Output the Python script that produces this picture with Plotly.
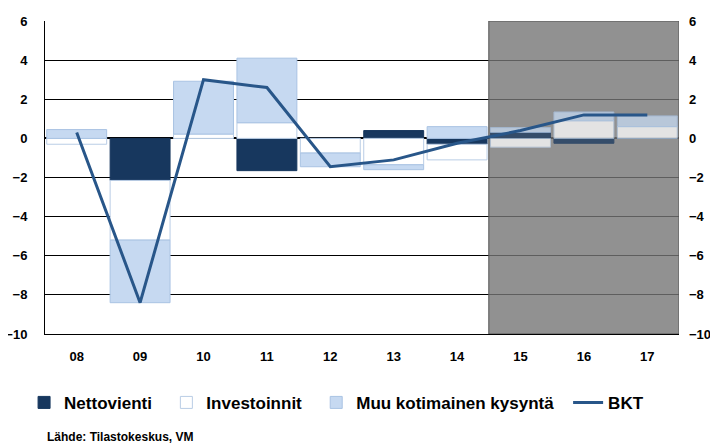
import plotly.graph_objects as go

years = ["08", "09", "10", "11", "12", "13", "14", "15", "16", "17"]
nettovienti = [0.0, -2.15, 0.0, -1.65, 0.0, 0.4, -0.3, 0.3, -0.25, 0.0]
investoinnit = [-0.3, -3.05, 0.22, 0.8, -0.75, -1.35, -0.8, -0.45, 0.9, 0.6]
muu_kotimainen = [0.45, -3.2, 2.7, 3.3, -0.7, -0.25, 0.6, 0.25, 0.45, 0.55]
bkt = [0.3, -8.4, 3.0, 2.6, -1.45, -1.1, -0.25, 0.4, 1.2, 1.2]
forecast = [False] * 7 + [True] * 3
yticks = [-10, -8, -6, -4, -2, 0, 2, 4, 6]

FONT = "Liberation Sans, Arial, sans-serif"
op = [0.75 if f else 1.0 for f in forecast]
PAD = "\u00a0\u00a0"

fig = go.Figure()
fig.add_trace(go.Bar(x=years, y=nettovienti, name="Nettovienti" + PAD,
                     marker=dict(color="#17375E", opacity=op,
                                 line=dict(color="#17375E", width=1))))
fig.add_trace(go.Bar(x=years, y=investoinnit, name="Investoinnit" + PAD,
                     marker=dict(color="#FFFFFF", opacity=op,
                                 line=dict(color="#B9CDE5", width=1))))
fig.add_trace(go.Bar(x=years, y=muu_kotimainen, name="Muu kotimainen kysyntä" + PAD,
                     marker=dict(color="#C6D9F1", opacity=op,
                                 line=dict(color="#A9C3E3", width=1))))
fig.add_trace(go.Scatter(x=years, y=bkt, name="BKT", mode="lines", yaxis="y2",
                         line=dict(color="#285689", width=3)))

n_hist = forecast.index(True)
fig.add_shape(type="rect", xref="x", yref="y", x0=n_hist - 0.5, x1=len(years) - 0.5,
              y0=min(yticks), y1=max(yticks), layer="between",
              fillcolor="rgba(118,118,118,0.8)", line=dict(color="#555555", width=1))

tickfont = dict(family=FONT, size=13, color="#000000", weight="bold")
fig.update_layout(
    width=710, height=436,
    margin=dict(l=37, r=39, t=13, b=110, autoexpand=False),
    paper_bgcolor="white", plot_bgcolor="white",
    barmode="relative", bargap=0.055,
    showlegend=True,
    legend=dict(orientation="h", x=-0.033, xanchor="left", y=-0.22, yanchor="middle",
                font=dict(family=FONT, size=17, color="#000000", weight="bold"),
                traceorder="normal", itemwidth=30, bgcolor="rgba(0,0,0,0)"),
    xaxis=dict(type="category", showgrid=False, showline=True, linecolor="#000000",
               linewidth=1, ticks="", tickfont=tickfont, ticklabelstandoff=10,
               range=[-0.5, len(years) - 0.5], automargin=False),
    yaxis=dict(range=[min(yticks), max(yticks)], tickvals=yticks, showgrid=True,
               gridcolor="#000000", gridwidth=1, zeroline=True, zerolinecolor="#000000",
               zerolinewidth=2, showline=True, linecolor="#000000", linewidth=1,
               ticks="", tickfont=tickfont, ticklabelstandoff=14, automargin=False),
    yaxis2=dict(range=[min(yticks), max(yticks)], tickvals=yticks, overlaying="y",
                side="right", showgrid=False, zeroline=False, showline=False,
                ticks="", tickfont=tickfont, ticklabelstandoff=9, automargin=False),
    annotations=[dict(text="Lähde: Tilastokeskus, VM", xref="paper", yref="paper",
                      x=0, y=-0.328, xanchor="left", yanchor="middle", showarrow=False,
                      font=dict(family=FONT, size=12, color="#000000", weight="bold"))],
)

fig.write_html("out.html")
